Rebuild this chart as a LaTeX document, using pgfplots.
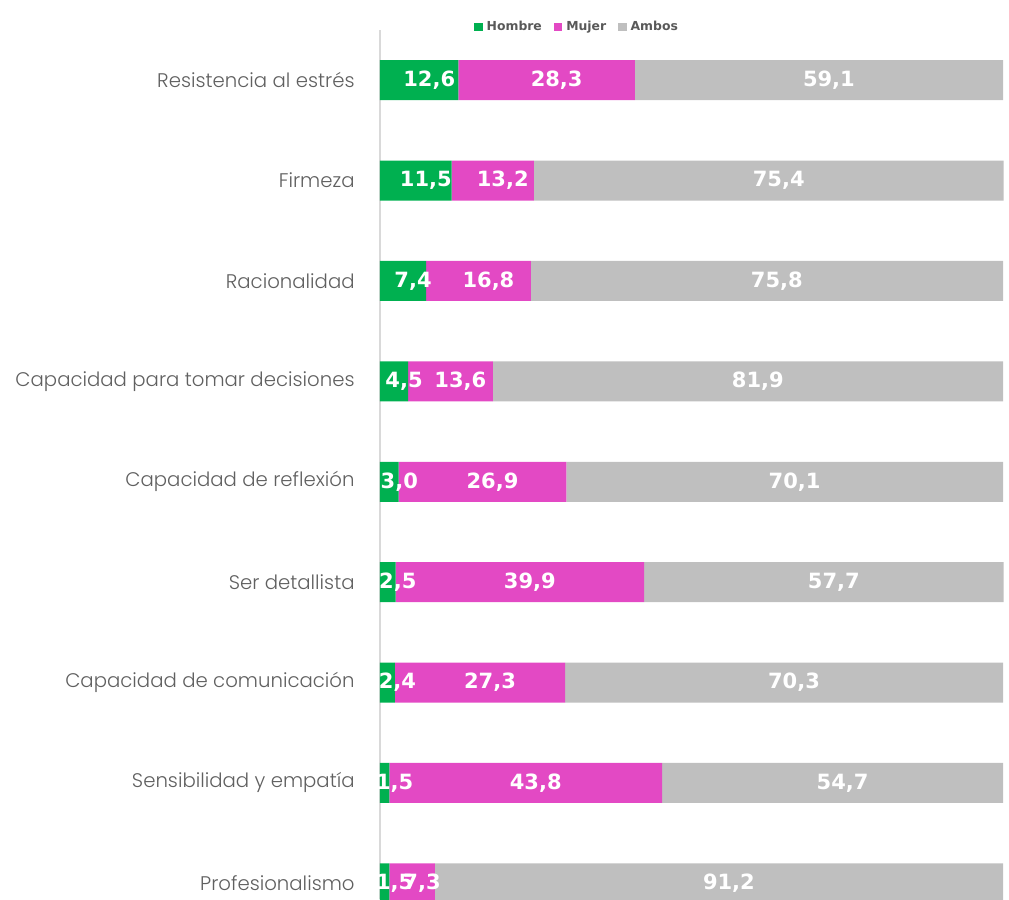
\documentclass[border=0pt]{standalone}
\usepackage{pgfplots}
\pgfplotsset{compat=1.18}
\usepackage{pgfplotstable}
\usepackage{fontspec}
\setmainfont{Poppins}
\IfFontExistsTF{Poppins Light}{\newfontfamily\catfont{Poppins Light}}{\newfontfamily\catfont{Poppins}}
\newfontfamily\numfont{DejaVu Sans}
\definecolor{cH}{RGB}{0,176,80}
\definecolor{cM}{RGB}{227,73,196}
\definecolor{cA}{RGB}{191,191,191}
\definecolor{txt}{RGB}{89,89,89}
\definecolor{cat}{RGB}{96,96,96}
\definecolor{axl}{RGB}{217,217,217}

\pgfplotstableread{
idx h m a
9 12.6 28.3 59.1
8 11.5 13.2 75.4
7 7.4 16.8 75.8
6 4.5 13.6 81.9
5 3.0 26.9 70.1
4 2.5 39.9 57.7
3 2.4 27.3 70.3
2 1.5 43.8 54.7
1 1.5 7.3 91.2
}\datatable
\pgfplotstablecreatecol[create col/expr={\thisrow{h}/2}]{hc}\datatable
\pgfplotstablecreatecol[create col/expr={\thisrow{h}+\thisrow{m}/2}]{mc}\datatable
\pgfplotstablecreatecol[create col/expr={\thisrow{h}+\thisrow{m}+\thisrow{a}/2}]{ac}\datatable

\pgfplotsset{
  common/.style={
    scale only axis,
    width=311.5pt, height=434.7pt,
    xmin=0, xmax=100,
    ymin=0.84, ymax=9.5,
    at={(0,0)}, anchor=south west,
  },
}

\begin{document}
\begin{tikzpicture}
\begin{axis}[
  common,
  xbar stacked,
  bar width=20pt,
  axis x line=none,
  axis y line*=left,
  axis line style={-, draw=axl, line width=0.8pt},
  ytick={1,...,9},
  yticklabels={Profesionalismo, Sensibilidad y empatía, Capacidad de comunicación, Ser detallista, Capacidad de reflexión, Capacidad para tomar decisiones, Racionalidad, Firmeza, Resistencia al estrés},
  major tick length=0pt,
  yticklabel style={font=\catfont\fontsize{9.85}{11}\selectfont, text=cat, inner sep=0pt, anchor=east, xshift=-12.5pt},
  legend style={at={(axis description cs:0.318,1)}, anchor=center, yshift=1.5pt, draw=none, fill=none, font=\numfont\bfseries\fontsize{6.2}{7}\selectfont, text=txt, inner sep=0pt, /tikz/every even column/.append style={column sep=4pt}},
  legend columns=-1,
  legend image code/.code={\fill[#1,draw=none] (0pt,-2.1pt) rectangle (4.2pt,2.1pt);},
  clip=false,
]
\addplot[fill=cH, draw=none] table[x=h, y=idx]{\datatable};
\addplot[fill=cM, draw=none] table[x=m, y=idx]{\datatable};
\addplot[fill=cA, draw=none] table[x=a, y=idx]{\datatable};
\legend{Hombre, Mujer, Ambos}
\coordinate (sw) at (rel axis cs:0,0);
\coordinate (ne) at (rel axis cs:1,1);
\end{axis}
\begin{axis}[
  common,
  hide axis,
  clip=false,
  point meta=explicit,
  nodes near coords={\pgfmathprintnumber[fixed, fixed zerofill, precision=1, use comma, assume math mode=true]{\pgfplotspointmeta}},
  every node near coord/.style={anchor=center, text=white, inner sep=0pt, font=\numfont\bfseries\fontsize{10.5}{12}\selectfont, xshift=5pt},
]
\addplot[draw=none, mark=none] table[x=hc, y=idx, meta=h]{\datatable};
\addplot[draw=none, mark=none] table[x=mc, y=idx, meta=m]{\datatable};
\addplot[draw=none, mark=none] table[x=ac, y=idx, meta=a]{\datatable};
\end{axis}
\pgfresetboundingbox
\path ([xshift=-190pt]sw) rectangle ([xshift=3pt,yshift=15pt]ne);
\end{tikzpicture}
\end{document}
